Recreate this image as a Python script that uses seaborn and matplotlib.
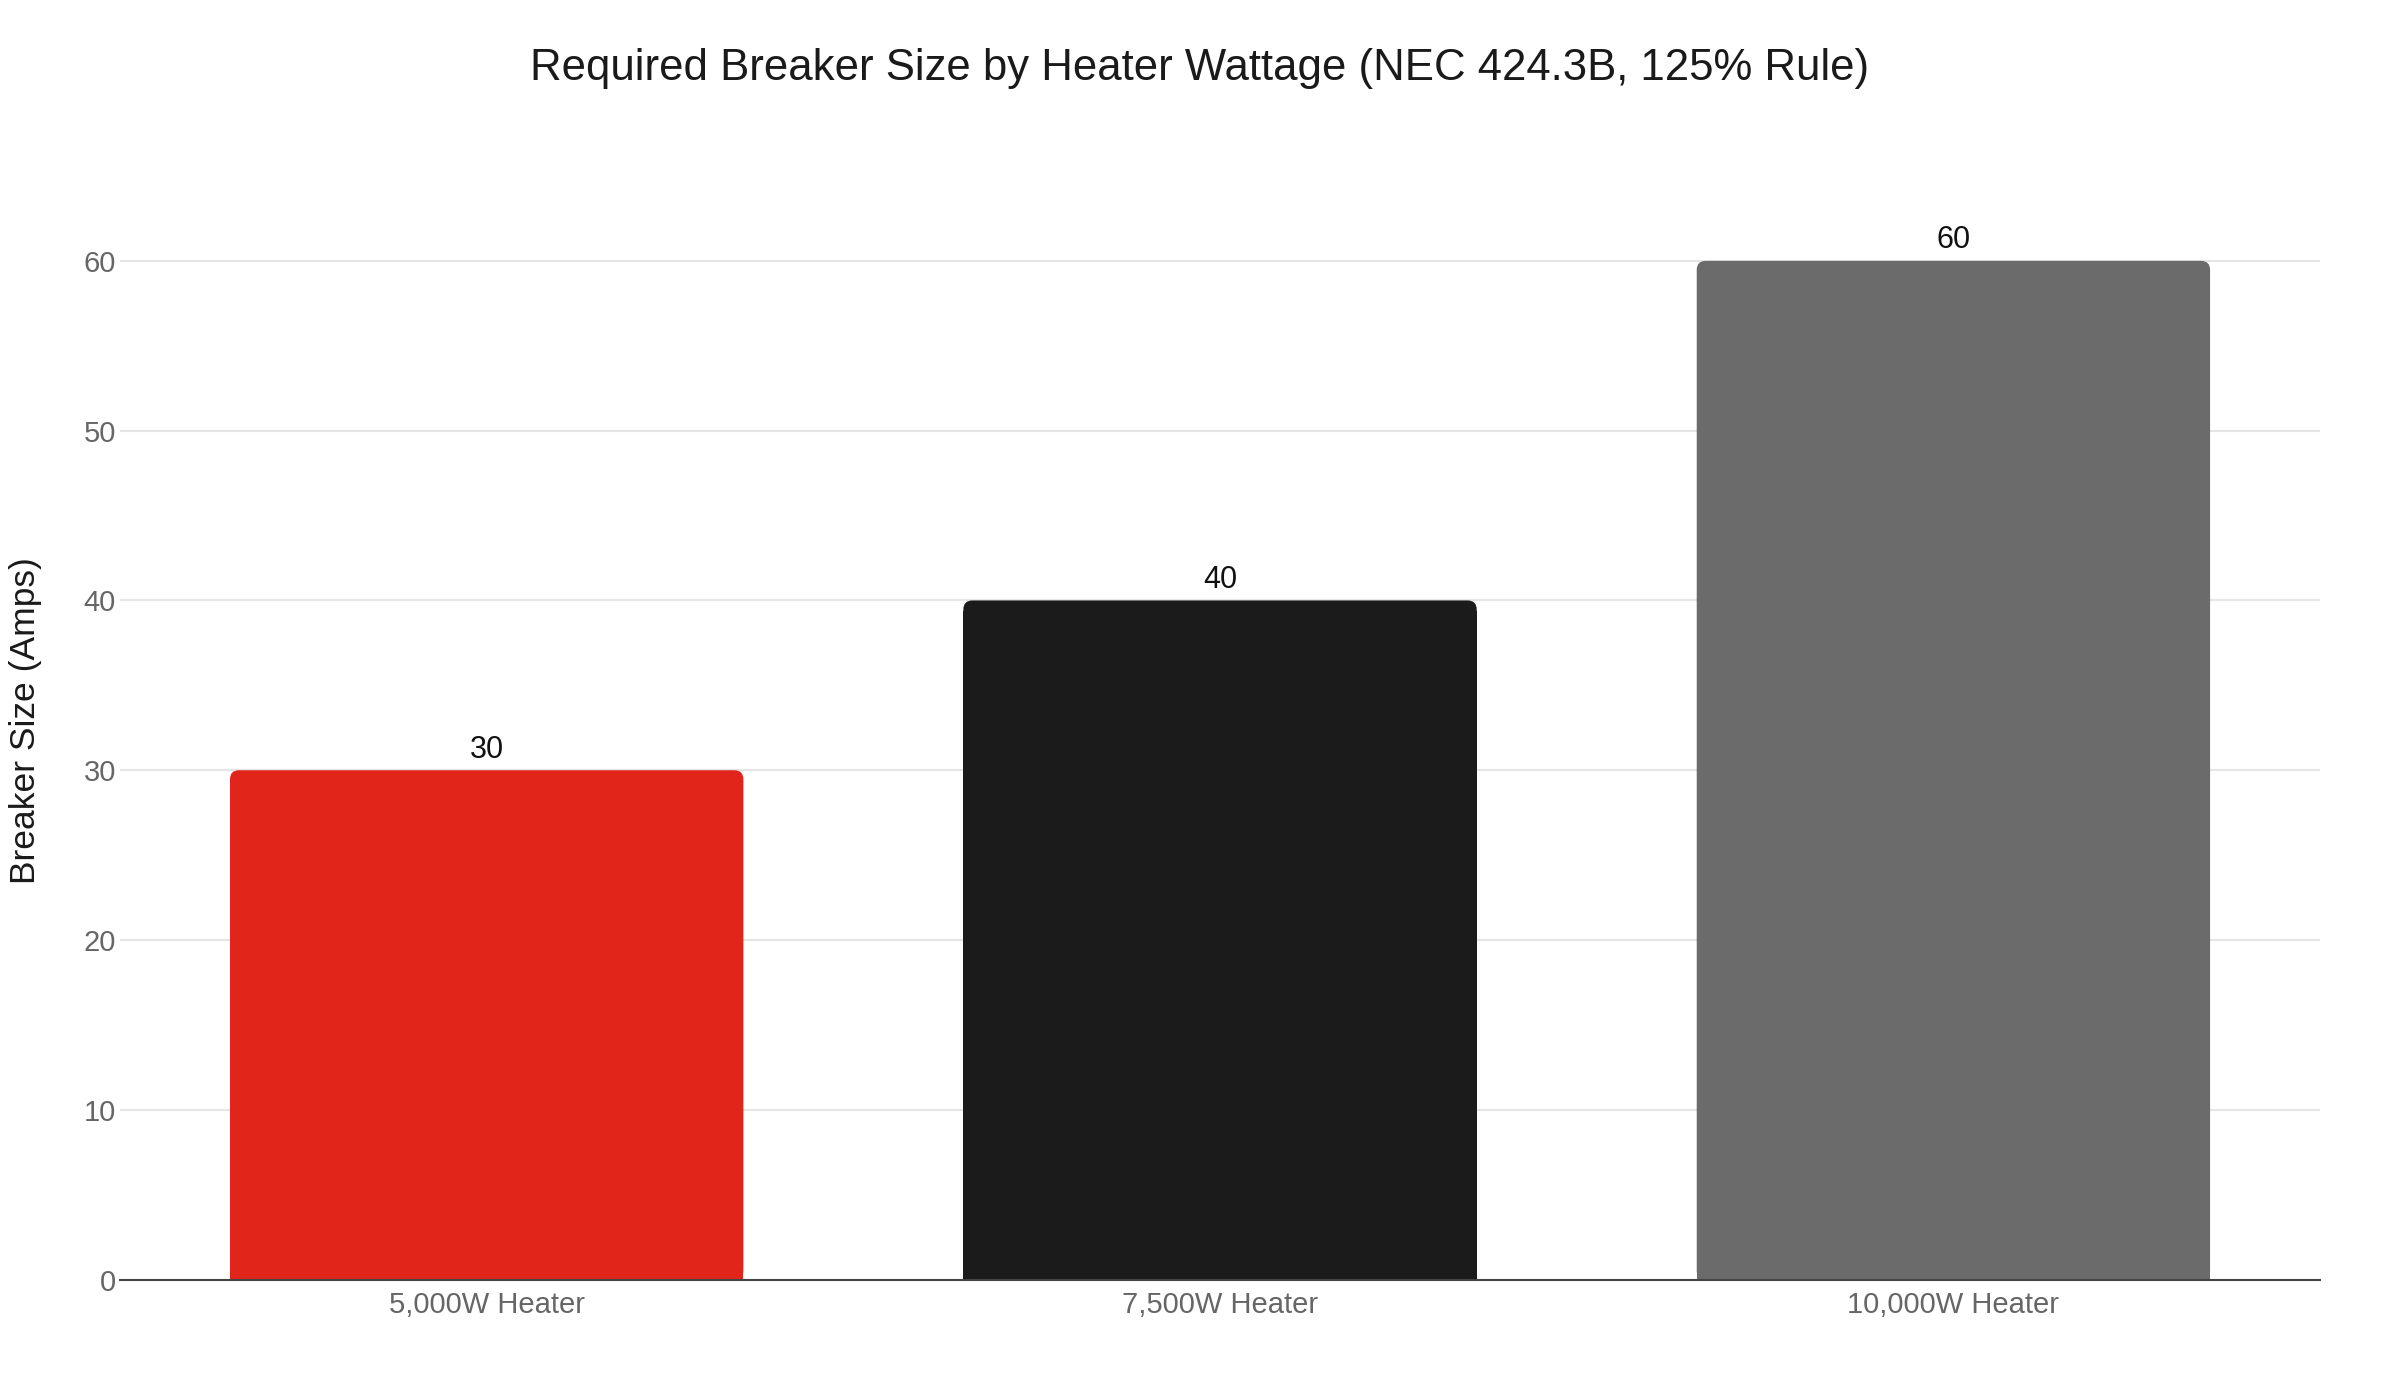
import numpy as np
import pandas as pd
import matplotlib
matplotlib.use("Agg")
import matplotlib.pyplot as plt
import seaborn as sns
from matplotlib.patches import FancyBboxPatch

# data
heaters = ["5,000W Heater", "7,500W Heater", "10,000W Heater"]
breaker_amps = [30, 40, 60]
bar_colors = ["#E1251B", "#1B1B1B", "#6B6B6B"]

df = pd.DataFrame({"heater": heaters, "amps": breaker_amps})

sns.set_style("white")
plt.rcParams["font.family"] = ["Liberation Sans", "DejaVu Sans"]

fig = plt.figure(figsize=(24, 14), dpi=100)
ax = fig.add_axes([0.05, 0.086, 0.9167, 0.798])

sns.barplot(data=df, x="heater", y="amps", hue="heater", palette=bar_colors,
            width=0.7, legend=False, ax=ax, saturation=1, zorder=3)

ax.set_xlim(-0.5, 2.5)
ax.set_ylim(0, 65.8)
ax.set_yticks([0, 10, 20, 30, 40, 50, 60])
ax.grid(axis="y", color="#E5E5E5", linewidth=1.5, zorder=0)
ax.grid(axis="x", visible=False)
ax.set_axisbelow(True)

for s in ["top", "right", "left"]:
    ax.spines[s].set_visible(False)
ax.spines["bottom"].set_color("#444444")
ax.spines["bottom"].set_linewidth(1.5)
ax.spines["bottom"].set_zorder(5)

ax.tick_params(axis="both", length=0, labelsize=21, labelcolor="#666666")
ax.tick_params(axis="x", pad=8.5)
ax.tick_params(axis="y", pad=3)
ax.set_xlabel("")
ax.set_ylabel("Breaker Size (Amps)", fontsize=25.5, color="#1a1a1a", labelpad=30)

# rounded top corners on the bars
fig.canvas.draw()
bbox = ax.get_window_extent()
x_per_px = (ax.get_xlim()[1] - ax.get_xlim()[0]) / bbox.width
y_per_px = (ax.get_ylim()[1] - ax.get_ylim()[0]) / bbox.height
rad_x = 9 * x_per_px
aspect = y_per_px / x_per_px
for rect in list(ax.patches):
    x0, w, h = rect.get_x(), rect.get_width(), rect.get_height()
    col = rect.get_facecolor()
    rect.set_height(h - rad_x * aspect * 1.2)
    rect.set_edgecolor("none")
    ax.add_patch(FancyBboxPatch((x0 + rad_x, rad_x * aspect), w - 2 * rad_x, h - 2 * rad_x * aspect,
                                boxstyle=f"round,pad={rad_x},rounding_size={rad_x}",
                                mutation_aspect=aspect, facecolor=col, edgecolor="none",
                                zorder=3))
    ax.annotate(f"{h:g}", (x0 + w / 2, h), xytext=(0, 4), textcoords="offset points",
                ha="center", va="bottom", fontsize=22, color="#111111")

fig.text(0.5, 0.951, "Required Breaker Size by Heater Wattage (NEC 424.3B, 125% Rule)",
         fontsize=31.5, color="#1a1a1a", ha="center", va="center")

fig.savefig("out.png", dpi=100, facecolor="white")
